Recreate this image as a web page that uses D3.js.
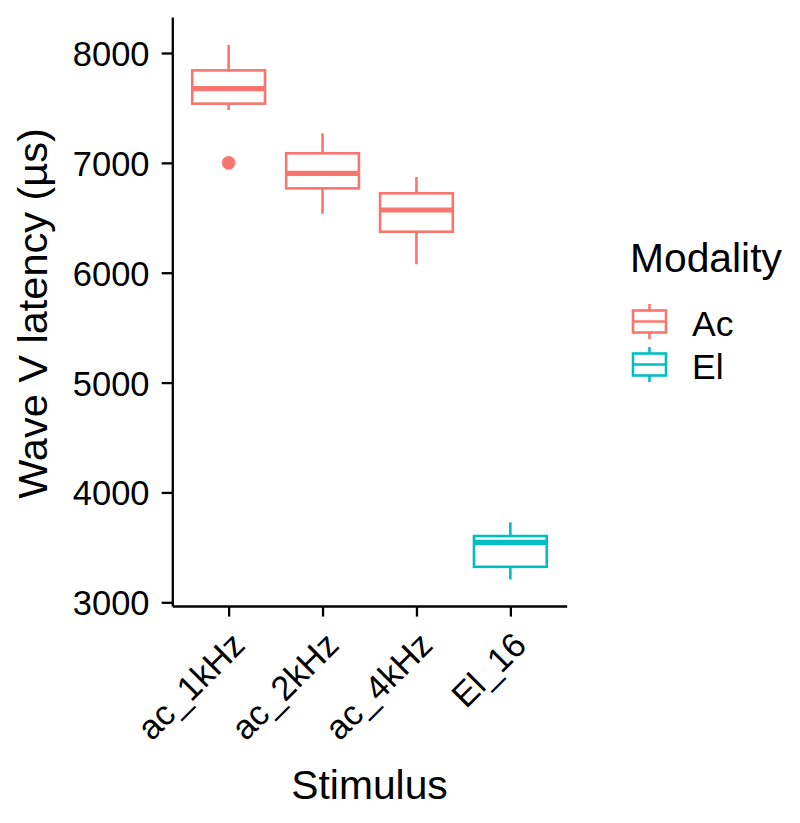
<!DOCTYPE html>
<html>
<head>
<meta charset="utf-8">
<script src="https://cdn.jsdelivr.net/npm/d3@7"></script>
<style>
  html, body { margin: 0; padding: 0; background: #fff; }
  svg { display: block; }
  text { font-family: "Liberation Sans", Arial, Helvetica, sans-serif; fill: #000; }
</style>
</head>
<body>
<svg id="chart" width="800" height="823"></svg>
<script>
// ---- data ----
const categories = ["ac_1kHz", "ac_2kHz", "ac_4kHz", "El_16"];
const modality   = ["Ac", "Ac", "Ac", "El"];
const whiskerLow = [7481, 6537, 6077, 3208];
const q1         = [7539, 6768, 6373, 3323];
const median     = [7675, 6905, 6571, 3546];
const q3         = [7842, 7087, 6723, 3603];
const whiskerHigh= [8073, 7269, 6871, 3728];
const outliers   = [[7000], [], [], []];
const yTicks     = [3000, 4000, 5000, 6000, 7000, 8000];
const modalities = ["Ac", "El"];
const modalityColors = ["#F8766D", "#00BFC4"];

const svg = d3.select("#chart");
const panel = { left: 172.3, right: 566.7, top: 17, bottom: 606 };

const x = d3.scalePoint().domain(categories).range([panel.left, panel.right]).padding(0.6);
const y = d3.scaleLinear().domain([2966.3, 8327.7]).range([panel.bottom, panel.top]);
const color = d3.scaleOrdinal().domain(modalities).range(modalityColors);

// axes
const yAxis = svg.append("g")
  .attr("transform", `translate(${panel.left},0)`)
  .call(d3.axisLeft(y).tickValues(yTicks).tickFormat(d3.format("d")).tickSize(10.6).tickSizeOuter(0).tickPadding(12.2));
const xAxis = svg.append("g")
  .attr("transform", `translate(0,${panel.bottom})`)
  .call(d3.axisBottom(x).tickSize(10.6).tickSizeOuter(0).tickFormat(() => ""));

[yAxis, xAxis].forEach(g => {
  g.select(".domain").attr("stroke", "#000").attr("stroke-width", 2.3);
  g.selectAll(".tick line").attr("stroke", "#000").attr("stroke-width", 2.3);
});
yAxis.selectAll(".tick text").attr("font-size", 34.5).attr("fill", "#000").attr("dy", "0.36em");

// rotated x labels
svg.append("g").selectAll("text")
  .data(categories)
  .join("text")
  .attr("transform", d => `translate(${x(d) + 0.5},${panel.bottom + 23.5}) rotate(-45)`)
  .attr("text-anchor", "end")
  .attr("dy", "0.72em")
  .attr("font-size", 34.5)
  .text(d => d);

// boxplots
const step = x.step();
const bw = 0.775 * step;
const sw = 2.6;
const boxes = svg.append("g").selectAll("g")
  .data(categories.map((c, i) => ({ c, i })))
  .join("g")
  .attr("stroke", d => color(modality[d.i]))
  .attr("fill", "none");

boxes.append("line")
  .attr("x1", d => x(d.c)).attr("x2", d => x(d.c))
  .attr("y1", d => y(q3[d.i])).attr("y2", d => y(whiskerHigh[d.i]))
  .attr("stroke-width", sw);
boxes.append("line")
  .attr("x1", d => x(d.c)).attr("x2", d => x(d.c))
  .attr("y1", d => y(q1[d.i])).attr("y2", d => y(whiskerLow[d.i]))
  .attr("stroke-width", sw);
boxes.append("rect")
  .attr("x", d => x(d.c) - bw / 2).attr("width", bw)
  .attr("y", d => y(q3[d.i])).attr("height", d => y(q1[d.i]) - y(q3[d.i]))
  .attr("fill", "#fff")
  .attr("stroke-width", sw);
boxes.append("line")
  .attr("x1", d => x(d.c) - bw / 2).attr("x2", d => x(d.c) + bw / 2)
  .attr("y1", d => y(median[d.i])).attr("y2", d => y(median[d.i]))
  .attr("stroke-width", 5.2);
boxes.selectAll("circle")
  .data(d => outliers[d.i].map(v => ({ v, c: d.c, i: d.i })))
  .join("circle")
  .attr("cx", d => x(d.c)).attr("cy", d => y(d.v)).attr("r", 6.8)
  .attr("stroke", "none")
  .attr("fill", d => color(modality[d.i]));

// axis titles
svg.append("text")
  .attr("transform", `translate(47,313.5) rotate(-90)`)
  .attr("text-anchor", "middle")
  .attr("font-size", 41.5)
  .text("Wave V latency (µs)");
svg.append("text")
  .attr("x", (panel.left + panel.right) / 2)
  .attr("y", 799)
  .attr("text-anchor", "middle")
  .attr("font-size", 40.8)
  .text("Stimulus");

// legend
const legend = svg.append("g");
legend.append("text").attr("x", 630).attr("y", 272).attr("font-size", 40.8).text("Modality");
const keyH = 43;
const items = legend.selectAll("g.item")
  .data(modalities)
  .join("g")
  .attr("class", "item")
  .attr("transform", (d, i) => `translate(0,${321.5 + i * keyH})`);
items.append("line").attr("x1", 649.5).attr("x2", 649.5).attr("y1", -17.5).attr("y2", 17.5)
  .attr("stroke", d => color(d)).attr("stroke-width", sw);
items.append("rect").attr("x", 633).attr("y", -11).attr("width", 33).attr("height", 22)
  .attr("fill", "#fff").attr("stroke", d => color(d)).attr("stroke-width", sw);
items.append("line").attr("x1", 633).attr("x2", 666).attr("y1", 0).attr("y2", 0)
  .attr("stroke", d => color(d)).attr("stroke-width", sw);
items.append("text").attr("x", 692).attr("y", 14.5).attr("font-size", 35.5).text(d => d);
</script>
</body>
</html>
